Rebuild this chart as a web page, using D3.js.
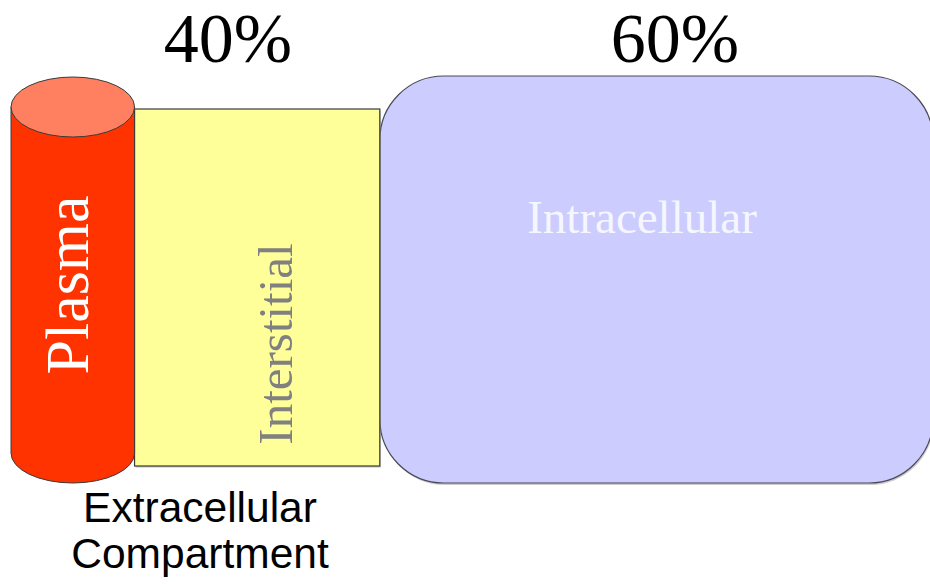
<!DOCTYPE html>
<html>
<head>
<meta charset="utf-8">
<script src="https://cdn.jsdelivr.net/npm/d3@7"></script>
<style>
  html, body { margin: 0; padding: 0; background: #ffffff; }
  svg { display: block; }
</style>
</head>
<body>
<div id="chart"></div>
<script>
// Body water compartments, as share of total body water (%)
const compartments = ["Plasma", "Interstitial", "Intracellular"];
const shares = [13.4, 26.6, 60];
const groups = ["Extracellular", "Intracellular"];
const groupMembers = [["Plasma", "Interstitial"], ["Intracellular"]];
const groupCaption = ["Extracellular", "Compartment"];

const W = 930, H = 586;
const svg = d3.select("#chart").append("svg")
  .attr("width", W).attr("height", H);

// Horizontal scale: cumulative percent of body water -> pixels
const x = d3.scaleLinear().domain([0, 100]).range([11, 933]);

const starts = d3.cumsum([0].concat(shares.slice(0, -1)));
const seg = compartments.map((name, i) => ({
  name, value: shares[i], x0: x(starts[i]), x1: x(starts[i] + shares[i])
}));
const byName = Object.fromEntries(seg.map(d => [d.name, d]));

const groupTotals = groupMembers.map(m => d3.sum(m, n => byName[n].value));

const serif = "'Liberation Serif', 'Times New Roman', serif";
const sans = "'Liberation Sans', Arial, sans-serif";

// Intracellular: rounded block with soft shadow
const ic = byName["Intracellular"];
const icTop = 76, icBot = 483, icR = 64;
svg.append("rect")
  .attr("x", ic.x0 + 1).attr("y", icTop + 2)
  .attr("width", ic.x1 - ic.x0).attr("height", icBot - icTop)
  .attr("rx", icR).attr("ry", icR)
  .attr("fill", "#a8a8b0").attr("opacity", 0.6);
svg.append("rect")
  .attr("x", ic.x0).attr("y", icTop)
  .attr("width", ic.x1 - ic.x0).attr("height", icBot - icTop)
  .attr("rx", icR).attr("ry", icR)
  .attr("fill", "#ccccff").attr("stroke", "#4a4a55").attr("stroke-width", 1.2);

// Interstitial: plain block
const it = byName["Interstitial"];
const itTop = 109, itBot = 466;
svg.append("rect")
  .attr("x", it.x0 + 1).attr("y", itTop + 1.5)
  .attr("width", it.x1 - it.x0).attr("height", itBot - itTop)
  .attr("fill", "#9a9a90").attr("opacity", 0.6);
svg.append("rect")
  .attr("x", it.x0).attr("y", itTop)
  .attr("width", it.x1 - it.x0).attr("height", itBot - itTop)
  .attr("fill", "#ffff99").attr("stroke", "#3a3a3a").attr("stroke-width", 1.2);

// Plasma: cylinder (body with rounded base, then the lighter top face)
const pl = byName["Plasma"];
const cx = (pl.x0 + pl.x1) / 2, rx = (pl.x1 - pl.x0) / 2, ry = 30;
const cyTop = 107, cyBot = 453;
const bodyPath = `M${pl.x0},${cyTop} L${pl.x0},${cyBot} A${rx},${ry} 0 0 0 ${pl.x1},${cyBot} L${pl.x1},${cyTop} Z`;
svg.append("path")
  .attr("d", bodyPath)
  .attr("fill", "#ff3300").attr("stroke", "#3a3a3a").attr("stroke-width", 1);
svg.append("ellipse")
  .attr("cx", cx).attr("cy", cyTop).attr("rx", rx).attr("ry", ry)
  .attr("fill", "#ff8060").attr("stroke", "#3a3a3a").attr("stroke-width", 1);

// Compartment labels
svg.append("text")
  .attr("transform", `translate(88,285) rotate(-90)`)
  .attr("text-anchor", "middle")
  .attr("font-family", serif).attr("font-size", 62)
  .attr("fill", "#ffffff")
  .text(pl.name);

svg.append("text")
  .attr("transform", `translate(292,344) rotate(-90)`)
  .attr("text-anchor", "middle")
  .attr("font-family", serif).attr("font-size", 49)
  .attr("fill", "#808080")
  .text(it.name);

svg.append("text")
  .attr("x", 642).attr("y", 233)
  .attr("text-anchor", "middle")
  .attr("font-family", serif).attr("font-size", 47)
  .attr("fill", "#f6f6ff")
  .text(ic.name);

// Group percentages
const pctX = [228, 675];
svg.selectAll("text.pct")
  .data(groupTotals)
  .join("text")
  .attr("class", "pct")
  .attr("x", (d, i) => pctX[i]).attr("y", 62)
  .attr("text-anchor", "middle")
  .attr("font-family", serif).attr("font-size", 70)
  .attr("fill", "#000000")
  .text(d => `${Math.round(d)}%`);

// Extracellular caption
svg.append("text")
  .attr("x", 199).attr("y", 522)
  .attr("text-anchor", "middle")
  .attr("font-family", sans).attr("font-size", 42.5)
  .attr("fill", "#000000")
  .selectAll("tspan")
  .data(groupCaption)
  .join("tspan")
  .attr("x", 200)
  .attr("dy", (d, i) => i === 0 ? 0 : 46)
  .text(d => d);
</script>
</body>
</html>
